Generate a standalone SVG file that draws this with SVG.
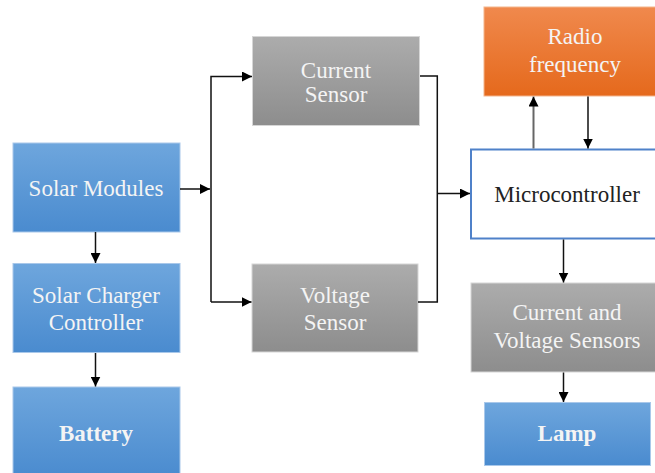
<svg xmlns="http://www.w3.org/2000/svg" width="655" height="473" viewBox="0 0 655 473">
<style>
.t{font-family:"Liberation Serif","Times New Roman",serif;font-size:23px;text-anchor:middle;fill:#f4f4f4}
.b{font-weight:bold}
.d{fill:#222}
.ln{fill:none;stroke:#111;stroke-width:1.5}
.lg{fill:none;stroke:#666;stroke-width:2}
.blue{fill:url(#gb);stroke:#a9c8ea;stroke-width:1}
.gray{fill:url(#gg);stroke:#d6d6d6;stroke-width:1}
.org{fill:url(#go);stroke:#f3b58c;stroke-width:1}
</style>
<defs>
<linearGradient id="gb" x1="0" y1="0" x2="0" y2="1"><stop offset="0" stop-color="#6ea6dd"/><stop offset="1" stop-color="#4a8bcf"/></linearGradient>
<linearGradient id="gg" x1="0" y1="0" x2="0" y2="1"><stop offset="0" stop-color="#acacac"/><stop offset="1" stop-color="#8d8d8d"/></linearGradient>
<linearGradient id="go" x1="0" y1="0" x2="0" y2="1"><stop offset="0" stop-color="#f0894d"/><stop offset="1" stop-color="#e5691c"/></linearGradient>
<marker id="ar" viewBox="0 0 10 10" refX="10" refY="5" markerWidth="10" markerHeight="10" markerUnits="userSpaceOnUse" orient="auto"><path d="M0,0 L10,5 L0,10 z" fill="#000"/></marker>
</defs>
<g id="solar-modules"><rect class="blue" x="13" y="143" width="167" height="89"/><text class="t" x="96" y="196">Solar Modules</text></g>
<g id="solar-charger"><rect class="blue" x="13" y="263.5" width="167" height="89"/><text class="t" x="96" y="303">Solar Charger</text><text class="t" x="96" y="330">Controller</text></g>
<g id="battery"><rect class="blue" x="13" y="387" width="167" height="90"/><text class="t b" x="96" y="441">Battery</text></g>
<g id="current-sensor"><rect class="gray" x="252.5" y="36.5" width="167" height="89"/><text class="t" x="336" y="78">Current</text><text class="t" x="336" y="102">Sensor</text></g>
<g id="voltage-sensor"><rect class="gray" x="252" y="264" width="166" height="88"/><text class="t" x="335" y="303">Voltage</text><text class="t" x="335" y="330">Sensor</text></g>
<g id="radio"><rect class="org" x="484" y="7" width="185" height="89"/><text class="t" x="575" y="44">Radio</text><text class="t" x="575" y="71.5">frequency</text></g>
<g id="microcontroller"><rect x="471" y="149.5" width="195" height="89" fill="#fff" stroke="#4f81c9" stroke-width="2"/><text class="t d" x="567" y="201.5">Microcontroller</text></g>
<g id="cv-sensors"><rect class="gray" x="471" y="283" width="192" height="89"/><text class="t" x="567" y="320">Current and</text><text class="t" x="567" y="348">Voltage Sensors</text></g>
<g id="lamp"><rect class="blue" x="484.5" y="402.5" width="166" height="63"/><text class="t b" x="567" y="441">Lamp</text></g>
<g id="connectors">
<path class="ln" d="M180,189 H210" marker-end="url(#ar)"/>
<path class="ln" d="M211,302 V76.5 H252" marker-end="url(#ar)"/>
<path class="ln" d="M211,302 H251.5" marker-end="url(#ar)"/>
<path class="ln" d="M95.5,232 V263" marker-end="url(#ar)"/>
<path class="ln" d="M95.5,353 V386.5" marker-end="url(#ar)"/>
<path class="ln" d="M420,76 H437.3 V302 H418"/>
<path class="ln" d="M437.3,193.5 H470" marker-end="url(#ar)"/>
<path class="lg" d="M533.5,148.5 V96.5" marker-end="url(#ar)"/>
<path class="ln" d="M588,96.5 V148.5" marker-end="url(#ar)"/>
<path class="ln" d="M563.5,239.5 V282.5" marker-end="url(#ar)"/>
<path class="ln" d="M563.5,372.5 V402" marker-end="url(#ar)"/>
</g>
</svg>
